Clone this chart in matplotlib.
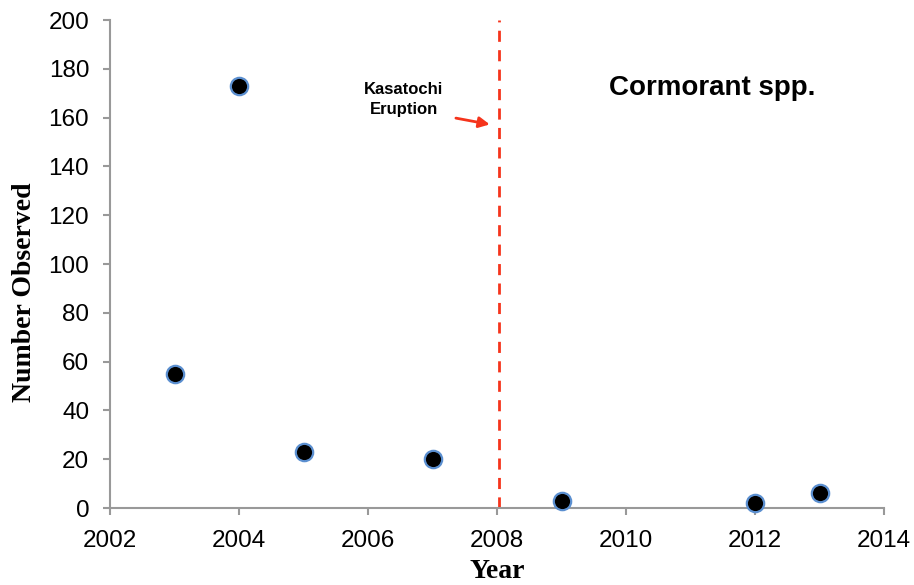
import numpy as np
from matplotlib import pyplot as plt

# survey counts
years = [2003, 2004, 2005, 2007, 2009, 2012, 2013]
counts = [55, 173, 23, 20, 3, 2, 6]
eruption_year = 2008.03

xticks = [2002, 2004, 2006, 2008, 2010, 2012, 2014]
yticks = [0, 20, 40, 60, 80, 100, 120, 140, 160, 180, 200]

fig = plt.figure(figsize=(9.14, 5.85), dpi=100)
ax = fig.add_axes([0.1204, 0.1316, 0.8468, 0.8342])

ax.plot(years, counts, 'o', markersize=12.5, markerfacecolor='black',
        markeredgecolor='#5b8fd0', markeredgewidth=1.6, clip_on=False, zorder=3)
ax.axvline(eruption_year, color='#f5341c', linestyle=(0, (4, 3)), linewidth=2)

ax.set_xlim(2002, 2014)
ax.set_ylim(0, 200)
ax.set_xticks(xticks)
ax.set_yticks(yticks)

for s in ['top', 'right']:
    ax.spines[s].set_visible(False)
for s in ['left', 'bottom']:
    ax.spines[s].set_color('#999999')
    ax.spines[s].set_linewidth(1.5)
ax.tick_params(direction='out', length=5, width=1.5, color='#999999',
               labelsize=17.5)
ax.tick_params(axis='y', pad=10)
ax.tick_params(axis='x', pad=11)
for lab in ax.get_xticklabels() + ax.get_yticklabels():
    lab.set_family('Liberation Sans')

ax.set_xlabel('Year', family='Liberation Serif', fontweight='bold', fontsize=20, labelpad=5)
ax.set_ylabel('Number Observed', family='Liberation Serif', fontweight='bold', fontsize=20)
ax.yaxis.set_label_coords(-0.094, 0.443)

ax.text(2006.55, 167.4, 'Kasatochi\nEruption', ha='center', va='center',
        family='Liberation Sans', fontweight='bold', fontsize=12, linespacing=1.4)
ax.annotate('', xy=(2007.93, 157), xytext=(2007.32, 160),
            arrowprops=dict(arrowstyle='-|>', color='#f5341c', lw=2, mutation_scale=16))
ax.text(2011.33, 172, 'Cormorant spp.', ha='center', va='center',
        family='Liberation Sans', fontweight='bold', fontsize=20)

plt.savefig('out.png', dpi=100)
